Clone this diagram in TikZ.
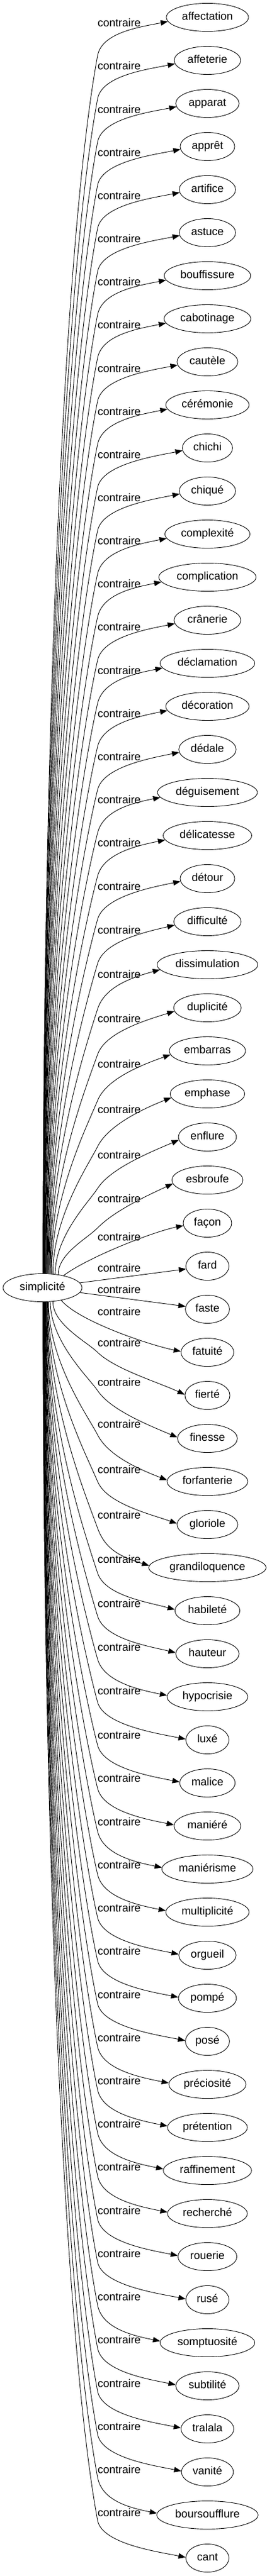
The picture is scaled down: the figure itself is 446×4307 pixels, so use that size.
\documentclass[tikz,border=0pt]{standalone}
\usepackage{fontspec}
\setmainfont{Liberation Sans}[Ligatures=NoCommon]
\usetikzlibrary{shapes.geometric,arrows.meta,calc}
\begin{document}
\begin{tikzpicture}[x=1pt,y=-1pt,
  word/.style={ellipse, draw, line width=0.9pt, inner xsep=6pt, inner ysep=0pt,
    minimum height=47pt, minimum width=72pt, text height=13.5pt, text depth=4pt,
    font=\fontsize{18.5}{22}\selectfont},
  rel/.style={inner sep=0pt, text height=13.5pt, text depth=4pt,
    font=\fontsize{18.5}{22}\selectfont},
  edge/.style={draw, line width=0.9pt, -{Triangle[length=12pt,width=9pt]}}]
\useasboundingbox (0,0) rectangle (446,4307);
\node[word, minimum width=132pt] (s) at (71,2153) {simplicité};
\foreach \k/\w in {1/affectation,2/affeterie,3/apparat,4/apprêt,5/artifice,6/astuce,
  7/bouffissure,8/cabotinage,9/cautèle,10/cérémonie,11/chichi,12/chiqué,13/complexité,
  14/complication,15/crânerie,16/déclamation,17/décoration,18/dédale,19/déguisement,
  20/délicatesse,21/détour,22/difficulté,23/dissimulation,24/duplicité,25/embarras,
  26/emphase,27/enflure,28/esbroufe,29/façon,30/fard,31/faste,32/fatuité,33/fierté,
  34/finesse,35/forfanterie,36/gloriole,37/grandiloquence,38/habileté,39/hauteur,
  40/hypocrisie,41/luxé,42/malice,43/maniéré,44/maniérisme,45/multiplicité,46/orgueil,
  47/pompé,48/posé,49/préciosité,50/prétention,51/raffinement,52/recherché,53/rouerie,
  54/rusé,55/somptuosité,56/subtilité,57/tralala,58/vanité,59/boursoufflure,60/cant}{
  \pgfmathsetmacro{\eTy}{29+72*(\k-1)}
  \node[word] (t\k) at (346.5,\eTy) {\w};
}
\foreach \k in {1,...,60}{
  \pgfmathsetmacro{\eTy}{29+72*(\k-1)}
  \ifnum\k<31\relax
    \pgfmathtruncatemacro{\eDi}{30-\k}
    \pgfmathtruncatemacro{\eD}{31-\k}
    \def\eSg{1}
    \pgfmathsetmacro{\eLo}{{5,25,33,32,28,24,20,18,16,15,14,13.8,13.7,13.5,13.4,13.2,13,12.9,12.7,12.6,12.4,12.3,12.1,12,11.8,11.6,11.5,11.3,11.2,11}[\eDi]}
    \pgfmathsetmacro{\eSx}{{0,0,97,92,88,86,84.9,83.8,82.7,81.7,80.8,79.9,79,78.2,77.5,76.8,76.1,75.5,74.9,74.4,74,73.6,73.2,72.9,72.6,72.4,72.2,72.1,72,72}[\eDi]}
    \pgfmathsetmacro{\eBo}{{0,0,80,86,88,83,78,74,70,68,67.8,67.6,67.4,67.2,67,66.8,66.6,66.4,66.2,66,65.8,65.6,65.4,65.2,65,64.8,64.6,64.4,64.2,64}[\eDi]}
    \def\eTa{186}
  \else
    \pgfmathtruncatemacro{\eDi}{\k-31}
    \pgfmathtruncatemacro{\eD}{\k-30}
    \def\eSg{-1}
    \pgfmathsetmacro{\eLo}{{-31,-66,-86,-92,-94,-90,-86,-84,-82,-81,-80,-78,-77.8,-77.6,-77.3,-77.1,-76.9,-76.7,-76.4,-76.2,-76,-75.8,-75.6,-75.3,-75.1,-74.9,-74.7,-74.4,-74.2,-74}[\eDi]}
    \pgfmathsetmacro{\eSx}{{0,0,88,84,81,80,79.3,78.7,78.1,77.6,77,76.5,76,75.6,75.1,74.7,74.3,74,73.7,73.4,73.1,72.9,72.7,72.5,72.3,72.2,72.1,72.1,72,72}[\eDi]}
    \pgfmathsetmacro{\eBo}{{0,0,72,80,78,72,66,63,63,63,63,63,63,63,63,63,63,63,63,63,63,63,63,63,63,63,63,63,63,63}[\eDi]}
    \def\eTa{178}
  \fi
  \pgfmathsetmacro{\eLy}{\eTy+\eLo}
  \node[rel] (l\k) at (199,\eLy) {contraire};
  \ifnum\eD=1\relax
    \draw[edge] (s) -- (t\k);
  \else\ifnum\eD=2\relax
    \ifnum\k<31\relax
      \draw[edge] (s.30) .. controls (147,2102) and ($(t\k.186)+(-50,10)$) .. (t\k.186);
    \else
      \draw[edge] (s.326) .. controls (133,2210) and ($(t\k.178)+(-50,-10)$) .. (t\k.178);
    \fi
  \else
    \pgfmathsetmacro{\eDx}{\eSx-71}
    \pgfmathsetmacro{\eDy}{23.5*sqrt(1-(\eDx/66)^2)}
    \pgfmathtruncatemacro{\eTh}{round(mod(360+\eSg*atan2(\eDy,\eDx),360))}
    \pgfmathsetmacro{\eSy}{2153-\eSg*\eDy}
    \pgfmathsetmacro{\eBy}{\eTy+\eSg*\eBo}
    \pgfmathsetmacro{\eL}{\eSg*(\eSy-\eBy)}
    \pgfmathsetmacro{\eU}{0.14+(163-\eSx)/\eL}
    \pgfmathsetmacro{\eN}{sqrt(1+\eU*\eU)}
    \pgfmathsetmacro{\eUx}{\eU/\eN}
    \pgfmathsetmacro{\eUy}{1/\eN}
    \pgfmathsetmacro{\eA}{0.45*\eL}
    \pgfmathsetmacro{\eH}{max(0.15*\eL,25)}
    \pgfmathsetmacro{\ePay}{\eSy-\eSg*\eA}
    \pgfmathsetmacro{\ePbx}{163-\eH*\eUx}
    \pgfmathsetmacro{\ePby}{\eBy+\eSg*\eH*\eUy}
    \pgfmathsetmacro{\eCax}{163+40*\eUx}
    \pgfmathsetmacro{\eCay}{\eBy-\eSg*40*\eUy}
    \pgfmathsetmacro{\eQ}{\eSg*(9+1.7*max(0,10-\eD))}
    \coordinate (b\k) at (163,\eBy);
    \draw[edge] (s.\eTh) .. controls (\eSx,\ePay) and (\ePbx,\ePby) .. (b\k)
      .. controls (\eCax,\eCay) and ($(t\k.\eTa)+(-45,\eQ)$) .. (t\k.\eTa);
  \fi\fi
}
\end{tikzpicture}
\end{document}
